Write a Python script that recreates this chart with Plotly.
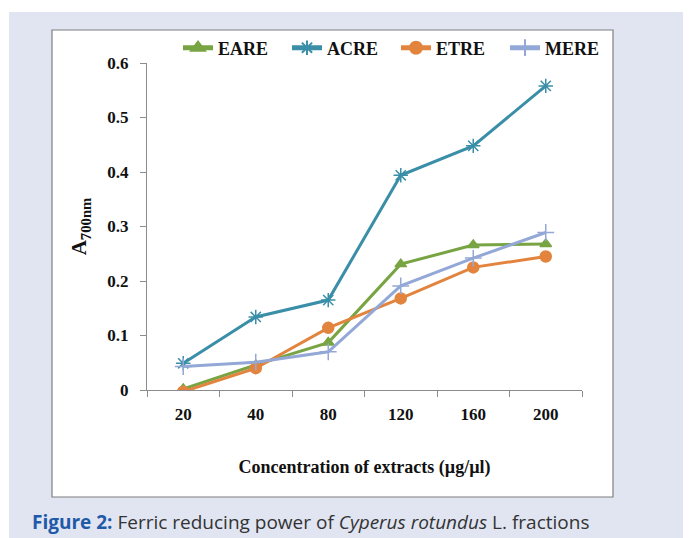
import plotly.graph_objects as go

categories = ["20", "40", "80", "120", "160", "200"]
eare = [0.002, 0.046, 0.087, 0.231, 0.266, 0.268]
acre = [0.049, 0.134, 0.165, 0.394, 0.448, 0.558]
etre = [-0.003, 0.040, 0.114, 0.168, 0.225, 0.245]
mere = [0.043, 0.051, 0.070, 0.191, 0.242, 0.289]

series = [
    ("EARE", eare, "#78a443", "triangle-up", 10),
    ("ACRE", acre, "#3a8ea8", "asterisk-open", 12),
    ("ETRE", etre, "#e3843e", "circle", 11),
    ("MERE", mere, "#93a8d6", "cross-thin-open", 12),
]

fig = go.Figure()
for name, vals, color, sym, size in series:
    fig.add_trace(go.Scatter(
        x=categories, y=vals, name=name, mode="lines+markers",
        line=dict(color=color, width=3),
        marker=dict(symbol=sym, size=size, color=color,
                    line=dict(color=color, width=1.5)),
    ))

# page offset: the browser draws the figure 8px in from the top-left corner
OFF = 8
W, H = 691, 538
# plot area in reference (screen) pixels
PX0, PX1, PY0, PY1 = 147, 582, 63, 390
L = PX0 - OFF
R = W - (PX1 - OFF)
T = PY0 - OFF
B = H - (PY1 - OFF)
pw = PX1 - PX0
ph = PY1 - PY0


def px(x):
    return (x - PX0) / pw


def py(y):
    return (PY1 - y) / ph


serif = "Liberation Serif"

fig.update_layout(
    width=W, height=H,
    margin=dict(l=L, r=R, t=T, b=B, pad=0, autoexpand=False),
    paper_bgcolor="#ffffff",
    plot_bgcolor="rgba(0,0,0,0)",
    font=dict(family=serif, size=16, color="#111111"),
    showlegend=True,
    legend=dict(
        orientation="h", xref="container", yref="container",
        x=(178 - OFF) / W, y=1 - (48 - OFF) / H,
        xanchor="left", yanchor="middle",
        font=dict(family=serif, size=18, color="#111111", weight="bold"),
        entrywidth=64, entrywidthmode="pixels",
        itemsizing="constant", bgcolor="rgba(0,0,0,0)",
    ),
    shapes=[
        dict(type="rect", xref="paper", yref="paper",
             x0=px(0), x1=px(W + OFF), y0=py(H + OFF), y1=py(0),
             fillcolor="#ffffff", line=dict(width=0), layer="below"),
        dict(type="rect", xref="paper", yref="paper",
             x0=px(9), x1=px(W + OFF), y0=py(H + OFF), y1=py(12),
             fillcolor="#e1e5f2", line=dict(width=0), layer="below"),
        dict(type="rect", xref="paper", yref="paper",
             x0=px(52), x1=px(613), y0=py(497), y1=py(30),
             fillcolor="#ffffff", line=dict(color="#7f7f7f", width=1.2),
             layer="below"),
    ],
    annotations=[
        dict(xref="paper", yref="paper", x=px(30), y=py(522),
             xanchor="left", yanchor="middle", showarrow=False,
             text="<b><span style='color:#1f5aa8'>Figure 2:</span></b> Ferric reducing power of <i>Cyperus rotundus</i> L. fractions",
             font=dict(family="Open Sans", size=19, color="#333333")),
    ],
)

fig.update_xaxes(
    type="category", range=[-0.5, len(categories) - 0.5],
    showgrid=False, zeroline=False,
    showline=True, linecolor="#8c8c8c", linewidth=1.2,
    ticks="outside", tickson="boundaries", ticklen=6, tickcolor="#8c8c8c",
    tickfont=dict(family=serif, size=17, color="#111111", weight="bold"),
    ticklabelstandoff=8,
    title=dict(text="<b>Concentration of extracts (µg/µl)</b>",
               font=dict(family=serif, size=18, color="#111111"), standoff=37),
)
fig.update_yaxes(
    range=[0, 0.6], dtick=0.1, showgrid=False, zeroline=False,
    showline=True, linecolor="#8c8c8c", linewidth=1.2,
    ticks="outside", ticklen=6, tickcolor="#8c8c8c",
    tickfont=dict(family=serif, size=17, color="#111111", weight="bold"),
    ticklabelstandoff=8,
    title=dict(text="<b>A<sub>700nm</sub></b>",
               font=dict(family=serif, size=21, color="#111111"), standoff=14),
)

fig.write_html("out.html")
